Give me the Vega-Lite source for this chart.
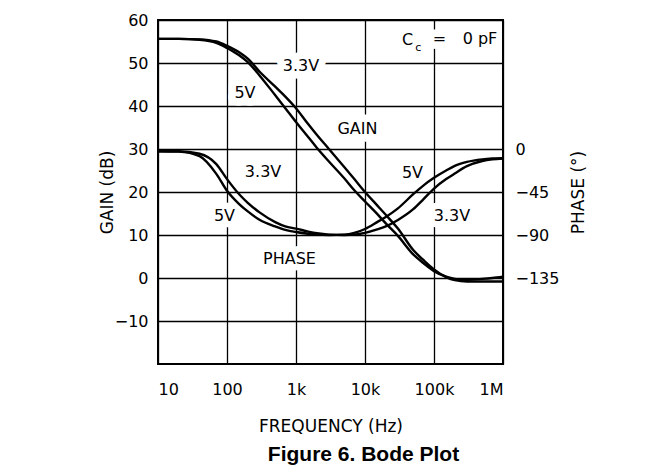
{
  "$schema": "https://vega.github.io/schema/vega-lite/v6.json",
  "width": 345,
  "height": 344,
  "autosize": {"type": "none"},
  "padding": {"left": 158, "top": 20, "right": 160, "bottom": 106},
  "background": "white",
  "config": {
    "font": "DejaVu Sans",
    "view": {"stroke": "black", "strokeWidth": 2},
    "axis": {
      "labelFont": "DejaVu Sans",
      "labelFontSize": 16,
      "labelFontWeight": "normal",
      "labelColor": "black",
      "titleFont": "DejaVu Sans",
      "titleFontSize": 17,
      "titleFontWeight": "normal",
      "titleColor": "black",
      "domain": false,
      "ticks": false,
      "tickSize": 0,
      "gridColor": "black",
      "gridOpacity": 1,
      "gridWidth": 1.3
    },
    "text": {"font": "DejaVu Sans", "fontSize": 16, "fontWeight": "normal"}
  },
  "datasets": {
    "gain": [
      {"supply": "5V", "freq": 10, "gain": 55.6},
      {"supply": "5V", "freq": 20, "gain": 55.6},
      {"supply": "5V", "freq": 40, "gain": 55.4},
      {"supply": "5V", "freq": 70, "gain": 54.7},
      {"supply": "5V", "freq": 100, "gain": 53.5},
      {"supply": "5V", "freq": 150, "gain": 51.8},
      {"supply": "5V", "freq": 200, "gain": 50.2},
      {"supply": "5V", "freq": 300, "gain": 47.0},
      {"supply": "5V", "freq": 500, "gain": 42.5},
      {"supply": "5V", "freq": 700, "gain": 39.5},
      {"supply": "5V", "freq": 1000, "gain": 36.3},
      {"supply": "5V", "freq": 1500, "gain": 32.8},
      {"supply": "5V", "freq": 2000, "gain": 30.3},
      {"supply": "5V", "freq": 3000, "gain": 27.1},
      {"supply": "5V", "freq": 5000, "gain": 23.2},
      {"supply": "5V", "freq": 7000, "gain": 20.4},
      {"supply": "5V", "freq": 10000, "gain": 17.8},
      {"supply": "5V", "freq": 15000, "gain": 14.9},
      {"supply": "5V", "freq": 20000, "gain": 12.7},
      {"supply": "5V", "freq": 30000, "gain": 9.8},
      {"supply": "5V", "freq": 50000, "gain": 5.5},
      {"supply": "5V", "freq": 70000, "gain": 3.5},
      {"supply": "5V", "freq": 100000, "gain": 1.6},
      {"supply": "5V", "freq": 150000, "gain": 0.3},
      {"supply": "5V", "freq": 200000, "gain": -0.2},
      {"supply": "5V", "freq": 300000, "gain": -0.4},
      {"supply": "5V", "freq": 500000, "gain": -0.2},
      {"supply": "5V", "freq": 700000, "gain": 0.0},
      {"supply": "5V", "freq": 1000000, "gain": 0.3},
      {"supply": "3.3V", "freq": 10, "gain": 55.6},
      {"supply": "3.3V", "freq": 20, "gain": 55.6},
      {"supply": "3.3V", "freq": 40, "gain": 55.5},
      {"supply": "3.3V", "freq": 70, "gain": 55.0},
      {"supply": "3.3V", "freq": 100, "gain": 54.0},
      {"supply": "3.3V", "freq": 150, "gain": 52.5},
      {"supply": "3.3V", "freq": 200, "gain": 51.0},
      {"supply": "3.3V", "freq": 300, "gain": 47.9},
      {"supply": "3.3V", "freq": 500, "gain": 44.5},
      {"supply": "3.3V", "freq": 700, "gain": 42.2},
      {"supply": "3.3V", "freq": 1000, "gain": 39.5},
      {"supply": "3.3V", "freq": 1500, "gain": 35.8},
      {"supply": "3.3V", "freq": 2000, "gain": 33.3},
      {"supply": "3.3V", "freq": 3000, "gain": 30.0},
      {"supply": "3.3V", "freq": 5000, "gain": 25.8},
      {"supply": "3.3V", "freq": 7000, "gain": 23.0},
      {"supply": "3.3V", "freq": 10000, "gain": 20.0},
      {"supply": "3.3V", "freq": 15000, "gain": 16.9},
      {"supply": "3.3V", "freq": 20000, "gain": 14.7},
      {"supply": "3.3V", "freq": 30000, "gain": 11.5},
      {"supply": "3.3V", "freq": 50000, "gain": 6.5},
      {"supply": "3.3V", "freq": 70000, "gain": 4.2},
      {"supply": "3.3V", "freq": 100000, "gain": 2.0},
      {"supply": "3.3V", "freq": 150000, "gain": 0.2},
      {"supply": "3.3V", "freq": 200000, "gain": -0.5},
      {"supply": "3.3V", "freq": 300000, "gain": -0.8},
      {"supply": "3.3V", "freq": 500000, "gain": -0.8},
      {"supply": "3.3V", "freq": 700000, "gain": -0.8},
      {"supply": "3.3V", "freq": 1000000, "gain": -0.8}
    ],
    "phase": [
      {"supply": "5V", "freq": 10, "phase": -2.3},
      {"supply": "5V", "freq": 20, "phase": -2.7},
      {"supply": "5V", "freq": 40, "phase": -7.5},
      {"supply": "5V", "freq": 70, "phase": -26.0},
      {"supply": "5V", "freq": 100, "phase": -43.7},
      {"supply": "5V", "freq": 150, "phase": -57.6},
      {"supply": "5V", "freq": 200, "phase": -65.3},
      {"supply": "5V", "freq": 300, "phase": -74.3},
      {"supply": "5V", "freq": 500, "phase": -81.0},
      {"supply": "5V", "freq": 700, "phase": -84.6},
      {"supply": "5V", "freq": 1000, "phase": -86.9},
      {"supply": "5V", "freq": 1500, "phase": -88.7},
      {"supply": "5V", "freq": 2000, "phase": -89.6},
      {"supply": "5V", "freq": 3000, "phase": -90.0},
      {"supply": "5V", "freq": 5000, "phase": -89.6},
      {"supply": "5V", "freq": 7000, "phase": -87.8},
      {"supply": "5V", "freq": 10000, "phase": -83.7},
      {"supply": "5V", "freq": 15000, "phase": -76.5},
      {"supply": "5V", "freq": 20000, "phase": -71.1},
      {"supply": "5V", "freq": 30000, "phase": -62.1},
      {"supply": "5V", "freq": 50000, "phase": -47.3},
      {"supply": "5V", "freq": 70000, "phase": -38.3},
      {"supply": "5V", "freq": 100000, "phase": -30.2},
      {"supply": "5V", "freq": 150000, "phase": -22.5},
      {"supply": "5V", "freq": 200000, "phase": -17.6},
      {"supply": "5V", "freq": 300000, "phase": -13.5},
      {"supply": "5V", "freq": 500000, "phase": -10.8},
      {"supply": "5V", "freq": 700000, "phase": -9.9},
      {"supply": "5V", "freq": 1000000, "phase": -9.5},
      {"supply": "3.3V", "freq": 10, "phase": -2.3},
      {"supply": "3.3V", "freq": 20, "phase": -2.3},
      {"supply": "3.3V", "freq": 40, "phase": -5.0},
      {"supply": "3.3V", "freq": 70, "phase": -15.8},
      {"supply": "3.3V", "freq": 100, "phase": -31.5},
      {"supply": "3.3V", "freq": 150, "phase": -47.3},
      {"supply": "3.3V", "freq": 200, "phase": -56.3},
      {"supply": "3.3V", "freq": 300, "phase": -66.6},
      {"supply": "3.3V", "freq": 500, "phase": -76.5},
      {"supply": "3.3V", "freq": 700, "phase": -81.0},
      {"supply": "3.3V", "freq": 1000, "phase": -83.3},
      {"supply": "3.3V", "freq": 1500, "phase": -86.4},
      {"supply": "3.3V", "freq": 2000, "phase": -88.2},
      {"supply": "3.3V", "freq": 3000, "phase": -89.6},
      {"supply": "3.3V", "freq": 5000, "phase": -90.0},
      {"supply": "3.3V", "freq": 7000, "phase": -89.6},
      {"supply": "3.3V", "freq": 10000, "phase": -87.8},
      {"supply": "3.3V", "freq": 15000, "phase": -84.2},
      {"supply": "3.3V", "freq": 20000, "phase": -81.0},
      {"supply": "3.3V", "freq": 30000, "phase": -74.3},
      {"supply": "3.3V", "freq": 50000, "phase": -63.0},
      {"supply": "3.3V", "freq": 70000, "phase": -52.7},
      {"supply": "3.3V", "freq": 100000, "phase": -41.4},
      {"supply": "3.3V", "freq": 150000, "phase": -31.5},
      {"supply": "3.3V", "freq": 200000, "phase": -25.7},
      {"supply": "3.3V", "freq": 300000, "phase": -18.0},
      {"supply": "3.3V", "freq": 500000, "phase": -12.6},
      {"supply": "3.3V", "freq": 700000, "phase": -10.8},
      {"supply": "3.3V", "freq": 1000000, "phase": -9.9}
    ],
    "gainLabels": [
      {"freq": 1180, "gain": 49.3, "label": "3.3V"},
      {"freq": 182, "gain": 43.1, "label": "5V"},
      {"freq": 7780, "gain": 34.7, "label": "GAIN"},
      {"freq": 41300, "gain": 55.4, "label": "C"},
      {"freq": 120300, "gain": 55.5, "label": "="},
      {"freq": 464000, "gain": 55.5, "label": "0 pF"}
    ],
    "subLabels": [
      {"freq": 59000, "gain": 53.6, "label": "c"}
    ],
    "phaseLabels": [
      {"freq": 333, "phase": -24.1, "label": "3.3V"},
      {"freq": 92, "phase": -70.2, "label": "5V"},
      {"freq": 805, "phase": -115.2, "label": "PHASE"},
      {"freq": 48700, "phase": -25.6, "label": "5V"},
      {"freq": 182000, "phase": -69.8, "label": "3.3V"}
    ]
  },
  "title": {
    "text": "Figure 6. Bode Plot",
    "orient": "bottom",
    "anchor": "middle",
    "font": "Liberation Sans",
    "fontSize": 21,
    "fontWeight": "bold",
    "color": "black",
    "dx": 33,
    "offset": 10
  },
  "encoding": {
    "x": {
      "field": "freq",
      "type": "quantitative",
      "scale": {"type": "log", "domain": [10, 1000000]},
      "axis": {
        "values": [10, 100, 1000, 10000, 100000, 1000000],
        "labelExpr": "datum.value >= 1000000 ? '1M' : datum.value >= 1000 ? format(datum.value / 1000, 'd') + 'k' : format(datum.value, 'd')",
        "labelPadding": 17,
        "grid": true,
        "title": "FREQUENCY (Hz)",
        "titleX": 172.5,
        "titleY": 62,
        "titleBaseline": "middle",
        "titleAlign": "center"
      }
    }
  },
  "layer": [
    {
      "encoding": {
        "y": {
          "field": "gain",
          "type": "quantitative",
          "scale": {"domain": [-20, 60]},
          "axis": {
            "orient": "left",
            "values": [-10, 0, 10, 20, 30, 40, 50, 60],
            "labelPadding": 10,
            "grid": true,
            "title": "GAIN (dB)",
            "titleAngle": 270,
            "titleX": -51,
            "titleY": 172,
            "titleAlign": "center",
            "titleBaseline": "middle"
          }
        }
      },
      "layer": [
        {
          "data": {"name": "gainLabels"},
          "transform": [{"filter": "datum.label != '0 pF'"}],
          "mark": {"type": "text", "fill": "white", "stroke": "white", "strokeWidth": 15, "strokeJoin": "round", "align": "center", "baseline": "middle"},
          "encoding": {"text": {"field": "label"}}
        },
        {
          "data": {"name": "gain"},
          "mark": {"type": "line", "color": "black", "strokeWidth": 2.4, "interpolate": "monotone"},
          "encoding": {"detail": {"field": "supply"}}
        },
        {
          "data": {"name": "gainLabels"},
          "mark": {"type": "text", "color": "black", "align": "center", "baseline": "middle"},
          "encoding": {"text": {"field": "label"}}
        },
        {
          "data": {"name": "subLabels"},
          "mark": {"type": "text", "color": "black", "fontSize": 11, "align": "center", "baseline": "middle"},
          "encoding": {"text": {"field": "label"}}
        }
      ]
    },
    {
      "encoding": {
        "y": {
          "field": "phase",
          "type": "quantitative",
          "scale": {"domain": [-225, 135]},
          "axis": {
            "orient": "right",
            "values": [0, -45, -90, -135],
            "labelPadding": 12,
            "grid": false,
            "title": "PHASE (°)",
            "titleAngle": 270,
            "titleX": 75,
            "titleY": 172,
            "titleAlign": "center",
            "titleBaseline": "middle"
          }
        }
      },
      "layer": [
        {
          "data": {"name": "phaseLabels"},
          "mark": {"type": "text", "fill": "white", "stroke": "white", "strokeWidth": 13, "strokeJoin": "round", "align": "center", "baseline": "middle"},
          "encoding": {"text": {"field": "label"}}
        },
        {
          "data": {"name": "phase"},
          "mark": {"type": "line", "color": "black", "strokeWidth": 2.4, "interpolate": "monotone"},
          "encoding": {"detail": {"field": "supply"}}
        },
        {
          "data": {"name": "phaseLabels"},
          "mark": {"type": "text", "color": "black", "align": "center", "baseline": "middle"},
          "encoding": {"text": {"field": "label"}}
        }
      ]
    }
  ],
  "resolve": {"scale": {"y": "independent"}}
}
